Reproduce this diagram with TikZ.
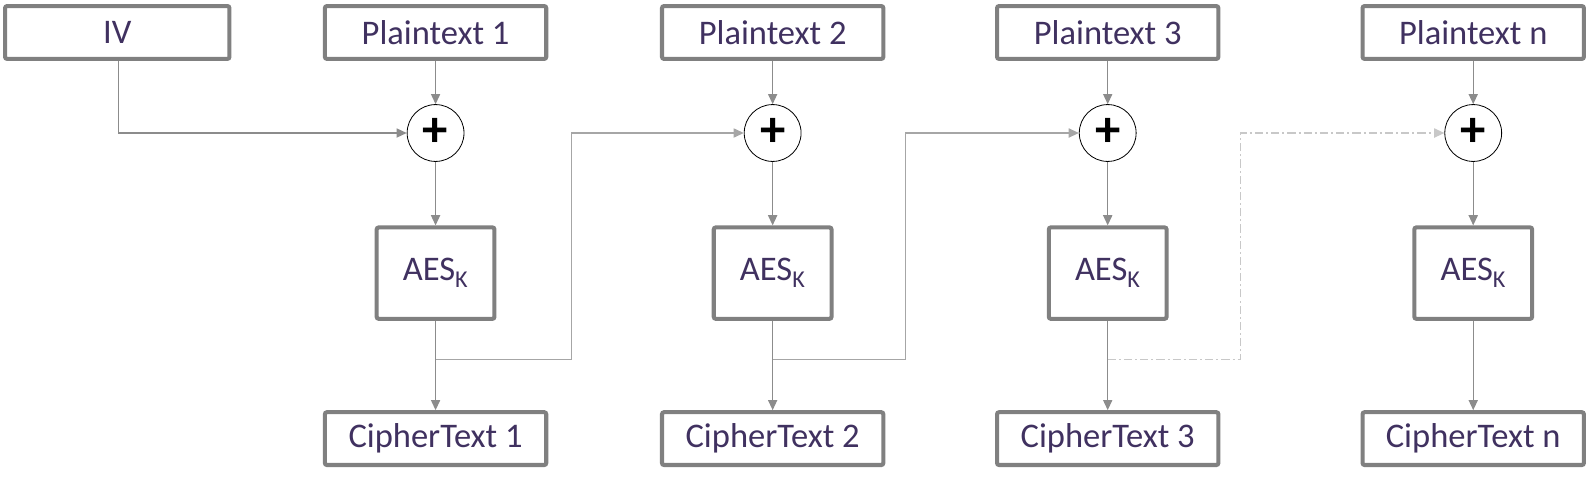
\documentclass[tikz,border=0pt]{standalone}
\usepackage{fontspec}
\setmainfont{Carlito}
\usetikzlibrary{arrows.meta}
\definecolor{txt}{RGB}{64,49,96}
\definecolor{boxgray}{RGB}{128,128,128}
\definecolor{linegray}{RGB}{140,140,140}
\definecolor{chaingray}{RGB}{166,166,166}
\definecolor{dashgray}{RGB}{200,200,200}
\begin{document}
\begin{tikzpicture}[x=1pt,y=-1pt,
  blk/.style={draw=boxgray,line width=4pt,rounded corners=2pt,fill=white,text=txt,
    font=\fontsize{34}{40}\selectfont,inner sep=0pt},
  wide/.style={blk,minimum width=218pt,minimum height=52pt},
  aesbox/.style={blk,minimum width=116pt,minimum height=90pt},
  xorc/.style={draw=black,line width=0.8pt,circle,minimum size=56pt,inner sep=0pt,
    font=\fontsize{50}{50}\selectfont\bfseries},
  arr/.style={draw=linegray,line width=1.3pt,-{Triangle[length=10pt,width=9pt]}},
  chain/.style={draw=chaingray,line width=1.3pt,-{Triangle[length=10pt,width=9pt]},color=chaingray},
  dchain/.style={draw=dashgray,line width=1.3pt,dash pattern=on 8pt off 3pt on 2pt off 3pt,
    -{Triangle[length=10pt,width=9pt]},color=dashgray}
]
\useasboundingbox (0,0) rectangle (1568,470);
\node[wide,minimum width=221pt] (iv) at (115.5,32) {IV};
\node[wide] (p1) at (429,32) {Plaintext 1};
\node[wide] (p2) at (761,32) {Plaintext 2};
\node[wide] (p3) at (1091,32) {Plaintext 3};
\node[wide] (p4) at (1451,32) {Plaintext n};
\foreach \i/\x in {1/429,2/761,3/1091,4/1451}{
  \node[xorc] (x\i) at (\x,131) {\raisebox{2pt}{+}};
  \node[aesbox] (a\i) at (\x,269) {AES\textsubscript{K}};
  \node[wide] (c\i) at (\x,432) {CipherText \ifnum\i=4 n\else\i\fi};
  \draw[arr] (p\i) -- (x\i);
  \draw[arr] (x\i) -- (a\i);
  \draw[arr] (a\i) -- (c\i);
}
\draw[arr] (iv.south -| 117,0) |- (x1.west);
\coordinate (j1) at (429,354);
\coordinate (k1) at (563,354);
\coordinate (j2) at (761,354);
\coordinate (k2) at (892,354);
\coordinate (j3) at (1091,354);
\coordinate (k3) at (1222,354);
\draw[chain] (j1) -- (k1) |- (x2.west);
\draw[chain] (j2) -- (k2) |- (x3.west);
\draw[dchain] (j3) -- (k3) |- (x4.west);
\end{tikzpicture}
\end{document}
